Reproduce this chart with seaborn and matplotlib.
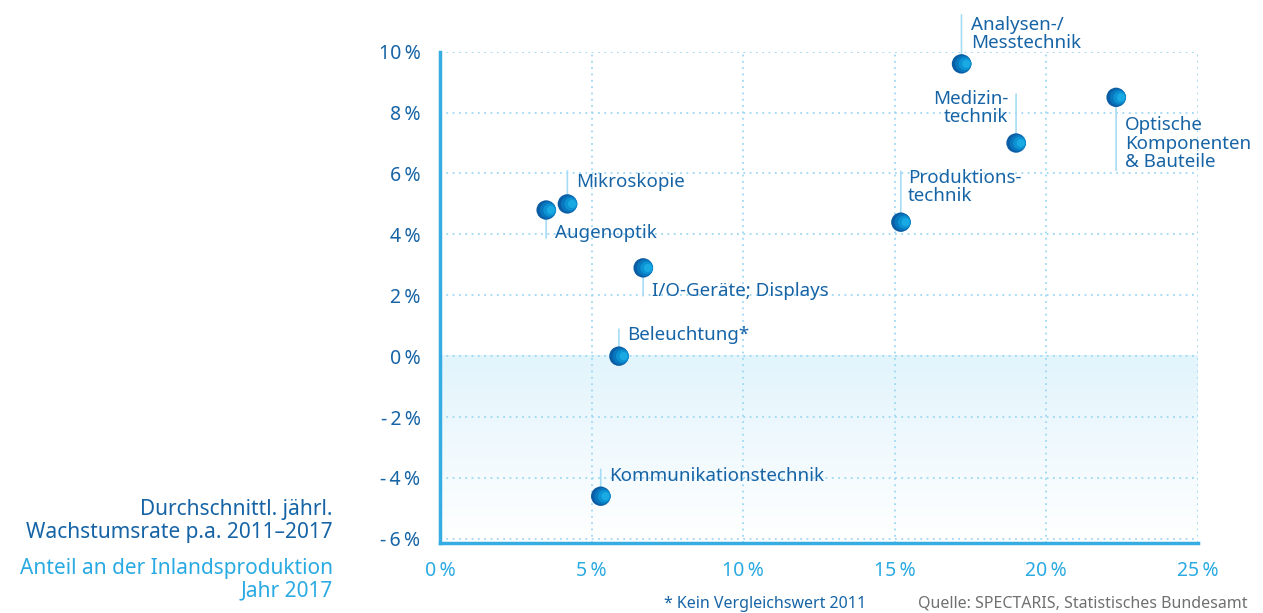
import matplotlib
matplotlib.use("Agg")
import matplotlib.pyplot as plt
from matplotlib.colors import LinearSegmentedColormap
from matplotlib.transforms import offset_copy
import numpy as np
import pandas as pd
import seaborn as sns

# data (percent)
segments = ["Analysen-/\nMesstechnik", "Medizin-\ntechnik", "Optische\nKomponenten\n& Bauteile",
            "Produktions-\ntechnik", "Mikroskopie", "Augenoptik", "I/O-Geräte; Displays",
            "Beleuchtung*", "Kommunikationstechnik"]
share = [17.2, 19.0, 22.3, 15.2, 4.2, 3.5, 6.7, 5.9, 5.3]
growth = [9.6, 7.0, 8.5, 4.4, 5.0, 4.8, 2.9, 0.0, -4.6]
x_ticks = [0, 5, 10, 15, 20, 25]
y_ticks = [-6, -4, -2, 0, 2, 4, 6, 8, 10]

# label layout in pixels: leader length, text dx, text dy, ha, va
layout = [(49, 10, 48, "left", "top"), (49, -8, 53, "right", "top"),
          (-73, 9, -19, "left", "top"), (51, 7, 53, "left", "top"),
          (33, 9, 22, "left", "center"), (-28, 9, -23, "left", "center"),
          (-28, 9, -23, "left", "center"), (27, 8, 21, "left", "center"),
          (27, 8, 20, "left", "center")]

DARK = "#1664a6"
CYAN = "#2aaae2"
GRID = "#9ed8f3"
LEADER = "#a6dcf4"
TS = "\u2009"

sns.set_style("white")
plt.rcParams["font.family"] = ["Noto Sans", "DejaVu Sans"]

df = pd.DataFrame({"segment": segments, "share": share, "growth": growth})

fig = plt.figure(figsize=(12.63, 6.13), dpi=100)
ax = fig.add_axes([0.3484, 0.1135, 0.6001, 0.8022])
ax.set_xlim(0, 25)
ax.set_ylim(-6.15, 10)

# shaded negative zone, light blue fading to white
cmap = LinearSegmentedColormap.from_list("neg", ["#ffffff", "#e2f4fc"])
grad = np.linspace(0, 1, 100).reshape(-1, 1)
ax.imshow(grad, extent=(0, 25, -6.15, 0), origin="lower", cmap=cmap,
          aspect="auto", zorder=0)

ax.set_xticks(x_ticks)
ax.set_yticks(y_ticks)
ax.grid(True, color=GRID, linestyle=(0, (1, 2.5)), linewidth=1.3, zorder=1)
ax.set_axisbelow(True)
for s in ["top", "right"]:
    ax.spines[s].set_visible(False)
for s in ["left", "bottom"]:
    ax.spines[s].set_color("#35ade3")
    ax.spines[s].set_linewidth(2.5)
    ax.spines[s].set_zorder(3)

ax.set_xticklabels([f"{v}{TS}%" for v in x_ticks], color=CYAN, fontsize=14)
ax.set_yticklabels([f"-{TS}{-v}{TS}%" if v < 0 else f"{v}{TS}%" for v in y_ticks],
                   color=DARK, fontsize=14)
ax.tick_params(axis="x", length=0, pad=13)
ax.tick_params(axis="y", length=0, pad=14)

# leader lines and labels
px = 0.72
for seg, x, y, (lead, dx, dy, ha, va) in zip(segments, share, growth, layout):
    ax.annotate("", xy=(x, y), xytext=(0, lead * px), textcoords="offset points",
                arrowprops=dict(arrowstyle="-", color=LEADER, lw=1.2,
                                shrinkA=0, shrinkB=0), zorder=4)
    ax.annotate(seg, xy=(x, y), xytext=(dx * px, dy * px), textcoords="offset points",
                ha=ha, va=va, multialignment=ha, color=DARK, fontsize=13.5,
                linespacing=1.02, zorder=6)

# markers: layered circles to mimic the dark-to-cyan gradient
layers = [(195, 0.0, "#0a5da4"), (140, 1.3, "#0876bd"), (85, 2.5, "#0c92d2"), (35, 3.4, "#19a9e3")]
for size, off, col in layers:
    tr = offset_copy(ax.transData, fig=fig, x=off, y=0, units="points")
    sns.scatterplot(data=df, x="share", y="growth", s=size, color=col,
                    edgecolor="none", linewidth=0, ax=ax, zorder=5,
                    transform=tr, legend=False)
ax.set_xlabel("")
ax.set_ylabel("")

# side captions
fig.text(333 / 1263, 1 - 521 / 613, "Durchschnittl. jährl.\nWachstumsrate p.a. 2011–2017",
         ha="right", va="center", color=DARK, fontsize=15, linespacing=1.18)
fig.text(333 / 1263, 1 - 580 / 613, "Anteil an der Inlandsproduktion\nJahr 2017",
         ha="right", va="center", color=CYAN, fontsize=15, linespacing=1.1)

# footer
fig.text(664 / 1263, 1 - 604 / 613, "* Kein Vergleichswert 2011",
         ha="left", va="center", color=DARK, fontsize=11.5)
fig.text(1248 / 1263, 1 - 604 / 613, "Quelle: SPECTARIS, Statistisches Bundesamt",
         ha="right", va="center", color="#707070", fontsize=11.5)

fig.savefig("out.png", dpi=100)
